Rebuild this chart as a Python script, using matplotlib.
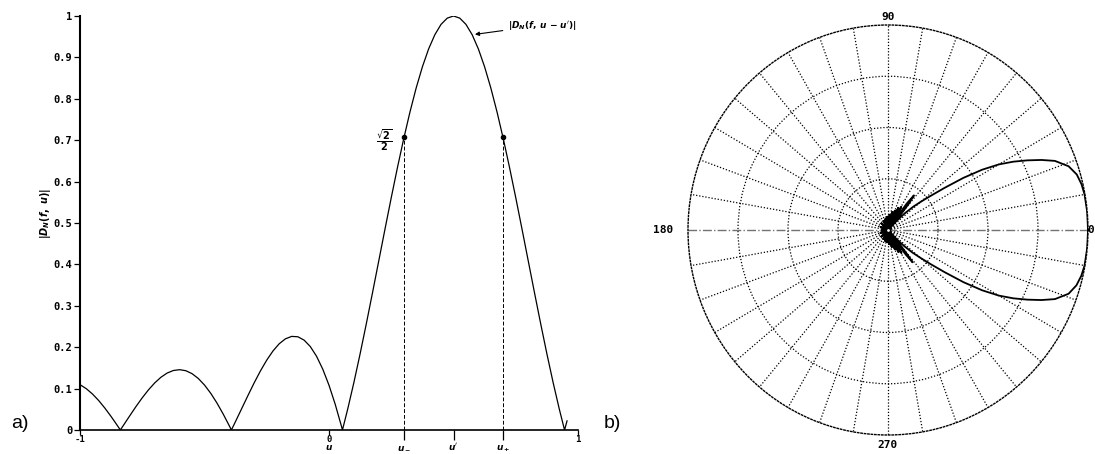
import numpy as np
import matplotlib
matplotlib.use("Agg")
import matplotlib.pyplot as plt

# |D_N(f, u - u')| read along u (main lobe centred on u')
u = [-1.0, -0.975, -0.95, -0.925, -0.90, -0.875, -0.85, -0.838, -0.825, -0.80,
     -0.775, -0.75, -0.725, -0.70, -0.675, -0.65, -0.625, -0.60, -0.575, -0.55,
     -0.525, -0.50, -0.475, -0.45, -0.425, -0.40, -0.392, -0.375, -0.35, -0.325,
     -0.30, -0.275, -0.25, -0.225, -0.20, -0.175, -0.15, -0.125, -0.10, -0.075,
     -0.05, -0.025, 0.0, 0.025, 0.05, 0.054, 0.075, 0.10, 0.125, 0.15,
     0.175, 0.20, 0.225, 0.25, 0.275, 0.30, 0.325, 0.35, 0.375, 0.40,
     0.425, 0.45, 0.475, 0.50, 0.525, 0.55, 0.575, 0.60, 0.625, 0.65,
     0.675, 0.70, 0.725, 0.75, 0.775, 0.80, 0.825, 0.85, 0.875, 0.90,
     0.925, 0.946, 0.956]
d_mag = [0.1095, 0.0999, 0.087, 0.0712, 0.0528, 0.0325, 0.0108, 0.0, 0.0118, 0.0345,
         0.0568, 0.0778, 0.097, 0.1137, 0.1274, 0.1376, 0.1437, 0.1457, 0.1432, 0.1361,
         0.1245, 0.1086, 0.0887, 0.0652, 0.0386, 0.0097, 0.0, 0.021, 0.0525, 0.0839,
         0.1145, 0.1431, 0.1688, 0.1909, 0.2083, 0.2202, 0.2261, 0.2252, 0.2171, 0.2015,
         0.1781, 0.1469, 0.1081, 0.062, 0.0091, 0.0, 0.0502, 0.1149, 0.1842, 0.2571,
         0.3324, 0.409, 0.4857, 0.5612, 0.6342, 0.7034, 0.7677, 0.826, 0.8771, 0.9203,
         0.9547, 0.9798, 0.9949, 1.0, 0.9949, 0.9798, 0.9547, 0.9203, 0.8771, 0.826,
         0.7677, 0.7034, 0.6342, 0.5612, 0.4857, 0.409, 0.3324, 0.2571, 0.1842, 0.1149,
         0.0502, 0.0, 0.022]

u_minus, u_prime, u_plus = 0.302, 0.5, 0.698
half_power = 0.7071

yticks = [0, 0.1, 0.2, 0.3, 0.4, 0.5, 0.6, 0.7, 0.8, 0.9, 1.0]
ytick_labels = ["0", "0.1", "0.2", "0.3", "0.4", "0.5", "0.6", "0.7", "0.8", "0.9", "1"]
xticks = [-1, 0, u_minus, u_prime, u_plus, 1]
xtick_labels = ["-1", "0", "", "", "", "1"]

# beam pattern, upper half (0..180 deg) and lower half (0..-180 deg)
upper_theta = [0, 5, 10, 13, 16, 19, 22, 24, 26, 28,
               30, 32, 34, 36, 38, 40, 42, 44, 46, 47.5,
               49.5, 51, 52.5, 54, 55.5, 57,
               59.5, 62, 64.5, 67, 70, 73, 76.5, 80, 84, 88,
               93, 98, 104, 110, 117, 125, 135, 145, 158, 170,
               180]
upper_r = [1.0, 1.0, 0.998, 0.993, 0.982, 0.955, 0.90, 0.84, 0.775, 0.71,
           0.64, 0.555, 0.455, 0.35, 0.27, 0.215, 0.17, 0.12, 0.06, 0.0,
           0.09, 0.17, 0.213, 0.16, 0.06, 0.0,
           0.13, 0.0, 0.12, 0.0, 0.10, 0.0, 0.09, 0.0, 0.075, 0.0,
           0.065, 0.0, 0.055, 0.0, 0.05, 0.0, 0.045, 0.0, 0.04, 0.0,
           0.03]
lower_theta = [0, -5, -10, -13, -16, -19, -22, -24, -26, -28,
               -30, -32, -34, -36, -38, -40, -42, -44, -46, -47.5,
               -49.5, -51, -52, -53.5, -55, -56.5,
               -59, -61.5, -64, -67, -70, -73, -77, -81, -85, -89,
               -94, -99, -105, -111, -118, -126, -136, -146, -159, -170,
               -180]
lower_r = [1.0, 1.0, 0.998, 0.992, 0.98, 0.955, 0.90, 0.84, 0.775, 0.71,
           0.64, 0.555, 0.455, 0.35, 0.27, 0.21, 0.165, 0.115, 0.06, 0.0,
           0.08, 0.16, 0.20, 0.15, 0.06, 0.0,
           0.13, 0.0, 0.12, 0.0, 0.10, 0.0, 0.085, 0.0, 0.07, 0.0,
           0.06, 0.0, 0.055, 0.0, 0.05, 0.0, 0.045, 0.0, 0.04, 0.0,
           0.03]

plt.rcParams["font.family"] = "DejaVu Sans Mono"
plt.rcParams["font.weight"] = "bold"
plt.rcParams["mathtext.fontset"] = "dejavusans"

W, H = 1095, 454
fig = plt.figure(figsize=(W / 100, H / 100), dpi=100)

# ---- a) magnitude vs u ----
ax = fig.add_axes([80 / W, 24 / H, 498 / W, 414 / H])
ax.plot(u, d_mag, color="k", lw=0.9)
ax.set_xlim(-1, 1)
ax.set_ylim(0, 1)
for s in ("top", "right"):
    ax.spines[s].set_visible(False)
ax.spines["left"].set_linewidth(1.5)
ax.spines["bottom"].set_linewidth(1.2)

ax.set_yticks(yticks)
ax.set_yticklabels(ytick_labels)
ax.set_xticks(xticks)
ax.set_xticklabels(xtick_labels)
ax.tick_params(axis="y", labelsize=7.5, length=4, width=0.9, pad=1.5, direction="out")
ax.tick_params(axis="x", labelsize=6.5, length=3.5, width=0.9, pad=0.3, direction="out")
for t in ax.xaxis.get_major_ticks()[2:5]:
    t.tick1line.set_markersize(7)

ax.vlines([u_minus, u_plus], 0, half_power, colors="k", linestyles=(0, (4, 2)), lw=0.7)
ax.plot([u_minus, u_plus], [half_power, half_power], "o", color="k", ms=3)
ax.text(0.222, 0.70, r"$\frac{\sqrt{2}}{2}$", ha="center", va="center", fontsize=10)

ax.annotate(r"$|D_N(f,\, u\,-\,u')|$", xy=(0.575, 0.9547), xytext=(0.72, 0.978),
            fontsize=6.5, ha="left", va="center",
            arrowprops=dict(arrowstyle="-|>", color="k", lw=0.8, mutation_scale=6))

# symbol row under the axis: axis name at 0, then the lobe markers
xt = ax.get_xaxis_transform()
for x, lab in [(0, r"$u$"), (u_minus, r"$u_-$"), (u_prime, r"$u'$"), (u_plus, r"$u_+$")]:
    ax.text(x, -0.0495, lab, transform=xt, ha="center", va="baseline", fontsize=6.5)

ax.text(-0.07, 0.524, r"$|D_N(f,\ u)|$", transform=ax.transAxes, rotation=90,
        ha="center", va="center", fontsize=7)

# ---- b) polar beam pattern ----
pax = fig.add_axes([688 / W, 19 / H, 400 / W, 410 / H], projection="polar")
pax.set_aspect("auto")
theta = lower_theta[::-1] + upper_theta[1:]
radius = lower_r[::-1] + upper_r[1:]
pax.set_ylim(0, 1)
pax.set_yticks([0.25, 0.5, 0.75])
pax.set_yticklabels(["", "", ""])
spokes = [a for a in range(0, 360, 10) if a not in (0, 180)]
pax.set_xticks(np.deg2rad(spokes))
pax.set_xticklabels([""] * len(spokes))
pax.grid(True, color="k", ls=(0, (1, 1.5)), lw=0.9)
pax.spines["polar"].set_linestyle((0, (1, 1.5)))
pax.spines["polar"].set_linewidth(1.0)
pax.plot([0, 0], [0, 1], color="0.45", ls="-.", lw=1.0)
pax.plot([np.pi, np.pi], [0, 1], color="0.45", ls="-.", lw=1.0)
pax.plot(np.deg2rad(theta), radius, color="k", lw=1.3)
pax.plot([0], [0], "o", mfc="white", mec="k", ms=3)

fig.text(888 / W, 1 - 17 / H, "90", ha="center", va="center", fontsize=8)
fig.text(888 / W, 1 - 445 / H, "270", ha="center", va="center", fontsize=8)
fig.text(663 / W, 1 - 230 / H, "180", ha="center", va="center", fontsize=8)
fig.text(1094 / W, 1 - 230 / H, "0", ha="right", va="center", fontsize=8)

fig.text(19.5 / W, 1 - 423 / H, "a)", ha="center", va="center", fontsize=14,
         family="Liberation Sans", weight="normal")
fig.text(612 / W, 1 - 423 / H, "b)", ha="center", va="center", fontsize=14,
         family="Liberation Sans", weight="normal")

fig.savefig("out.png", dpi=100)
